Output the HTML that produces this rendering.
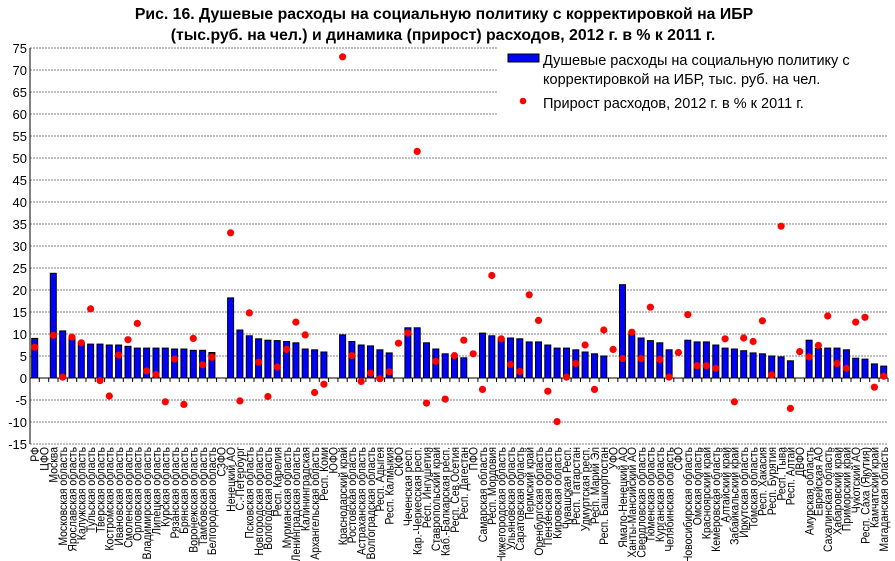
<!DOCTYPE html>
<html><head><meta charset="utf-8"><style>body{margin:0;background:#fff}svg{display:block}text{font-family:"Liberation Sans",sans-serif}</style></head><body>
<svg width="895" height="561" xmlns="http://www.w3.org/2000/svg">
<text x="444" y="19" text-anchor="middle" font-size="15.8" font-weight="bold">Рис. 16. Душевые расходы на социальную политику с корректировкой на ИБР</text>
<text x="443" y="40" text-anchor="middle" font-size="15.8" font-weight="bold">(тыс.руб. на чел.) и динамика (прирост) расходов, 2012 г. в % к 2011 г.</text>
<g stroke="#808080" stroke-width="1" stroke-dasharray="2,1">
<line x1="30" x2="888" y1="444" y2="444"/><line x1="30" x2="888" y1="422" y2="422"/><line x1="30" x2="888" y1="400" y2="400"/>
<line x1="30" x2="888" y1="356" y2="356"/><line x1="30" x2="888" y1="334" y2="334"/><line x1="30" x2="888" y1="312" y2="312"/>
<line x1="30" x2="888" y1="290" y2="290"/><line x1="30" x2="888" y1="268" y2="268"/><line x1="30" x2="888" y1="246" y2="246"/>
<line x1="30" x2="888" y1="224" y2="224"/><line x1="30" x2="888" y1="202" y2="202"/><line x1="30" x2="888" y1="180" y2="180"/>
<line x1="30" x2="888" y1="158" y2="158"/><line x1="30" x2="888" y1="136" y2="136"/><line x1="30" x2="888" y1="114" y2="114"/>
<line x1="30" x2="888" y1="92" y2="92"/><line x1="30" x2="888" y1="70" y2="70"/><line x1="30" x2="888" y1="48" y2="48"/>
</g>
<g font-size="13" text-anchor="end">
<text x="27" y="53">75</text><text x="27" y="75">70</text><text x="27" y="97">65</text><text x="27" y="119">60</text><text x="27" y="141">55</text><text x="27" y="163">50</text><text x="27" y="185">45</text><text x="27" y="207">40</text><text x="27" y="229">35</text><text x="27" y="251">30</text><text x="27" y="273">25</text><text x="27" y="295">20</text><text x="27" y="317">15</text><text x="27" y="339">10</text><text x="27" y="361">5</text><text x="27" y="383">0</text><text x="27" y="405">-5</text><text x="27" y="427">-10</text><text x="27" y="449">-15</text>
</g>
<g fill="#0000ff" stroke="#000" stroke-width="1">
<rect x="31.7" y="338.4" width="6" height="39.6"/>
<rect x="50.3" y="273.3" width="6" height="104.7"/>
<rect x="59.7" y="330.9" width="6" height="47.1"/>
<rect x="69" y="338.4" width="6" height="39.6"/>
<rect x="78.3" y="342.8" width="6" height="35.2"/>
<rect x="87.6" y="344.1" width="6" height="33.9"/>
<rect x="97" y="344.1" width="6" height="33.9"/>
<rect x="106.3" y="345" width="6" height="33"/>
<rect x="115.6" y="345" width="6" height="33"/>
<rect x="125" y="346.3" width="6" height="31.7"/>
<rect x="134.3" y="348.1" width="6" height="29.9"/>
<rect x="143.6" y="348.1" width="6" height="29.9"/>
<rect x="153" y="348.1" width="6" height="29.9"/>
<rect x="162.3" y="348.1" width="6" height="29.9"/>
<rect x="171.6" y="349" width="6" height="29"/>
<rect x="180.9" y="349" width="6" height="29"/>
<rect x="190.3" y="350.3" width="6" height="27.7"/>
<rect x="199.6" y="350.3" width="6" height="27.7"/>
<rect x="208.9" y="352.5" width="6" height="25.5"/>
<rect x="227.6" y="297.9" width="6" height="80.1"/>
<rect x="236.9" y="330" width="6" height="48"/>
<rect x="246.3" y="335.8" width="6" height="42.2"/>
<rect x="255.6" y="338.8" width="6" height="39.2"/>
<rect x="264.9" y="340.2" width="6" height="37.8"/>
<rect x="274.2" y="340.6" width="6" height="37.4"/>
<rect x="283.6" y="341.5" width="6" height="36.5"/>
<rect x="292.9" y="342.8" width="6" height="35.2"/>
<rect x="302.2" y="349" width="6" height="29"/>
<rect x="311.6" y="349.8" width="6" height="28.2"/>
<rect x="320.9" y="352" width="6" height="26"/>
<rect x="339.6" y="334.9" width="6" height="43.1"/>
<rect x="348.9" y="341.5" width="6" height="36.5"/>
<rect x="358.2" y="345" width="6" height="33"/>
<rect x="367.5" y="345.9" width="6" height="32.1"/>
<rect x="376.9" y="349.8" width="6" height="28.2"/>
<rect x="386.2" y="352.9" width="6" height="25.1"/>
<rect x="404.9" y="327.8" width="6" height="50.2"/>
<rect x="414.2" y="327.8" width="6" height="50.2"/>
<rect x="423.5" y="342.8" width="6" height="35.2"/>
<rect x="432.8" y="349" width="6" height="29"/>
<rect x="442.2" y="353.8" width="6" height="24.2"/>
<rect x="451.5" y="357.8" width="6" height="20.2"/>
<rect x="460.8" y="357.8" width="6" height="20.2"/>
<rect x="479.5" y="333.1" width="6" height="44.9"/>
<rect x="488.8" y="335.8" width="6" height="42.2"/>
<rect x="498.2" y="338.4" width="6" height="39.6"/>
<rect x="507.5" y="338" width="6" height="40"/>
<rect x="516.8" y="338.8" width="6" height="39.2"/>
<rect x="526.2" y="341.9" width="6" height="36.1"/>
<rect x="535.5" y="341.9" width="6" height="36.1"/>
<rect x="544.8" y="345" width="6" height="33"/>
<rect x="554.1" y="348.1" width="6" height="29.9"/>
<rect x="563.5" y="348.1" width="6" height="29.9"/>
<rect x="572.8" y="349.8" width="6" height="28.2"/>
<rect x="582.1" y="352" width="6" height="26"/>
<rect x="591.5" y="353.8" width="6" height="24.2"/>
<rect x="600.8" y="356" width="6" height="22"/>
<rect x="619.5" y="284.7" width="6" height="93.3"/>
<rect x="628.8" y="333.1" width="6" height="44.9"/>
<rect x="638.1" y="338" width="6" height="40"/>
<rect x="647.4" y="340.6" width="6" height="37.4"/>
<rect x="656.8" y="342.8" width="6" height="35.2"/>
<rect x="666.1" y="349.8" width="6" height="28.2"/>
<rect x="684.8" y="340.2" width="6" height="37.8"/>
<rect x="694.1" y="341.9" width="6" height="36.1"/>
<rect x="703.4" y="341.9" width="6" height="36.1"/>
<rect x="712.8" y="345" width="6" height="33"/>
<rect x="722.1" y="348.1" width="6" height="29.9"/>
<rect x="731.4" y="349" width="6" height="29"/>
<rect x="740.7" y="350.7" width="6" height="27.3"/>
<rect x="750.1" y="352.9" width="6" height="25.1"/>
<rect x="759.4" y="353.8" width="6" height="24.2"/>
<rect x="768.7" y="356" width="6" height="22"/>
<rect x="778.1" y="356.9" width="6" height="21.1"/>
<rect x="787.4" y="360.8" width="6" height="17.2"/>
<rect x="806.1" y="340.2" width="6" height="37.8"/>
<rect x="815.4" y="348.5" width="6" height="29.5"/>
<rect x="824.7" y="348.1" width="6" height="29.9"/>
<rect x="834" y="348.1" width="6" height="29.9"/>
<rect x="843.4" y="349.8" width="6" height="28.2"/>
<rect x="852.7" y="358.2" width="6" height="19.8"/>
<rect x="862" y="359.1" width="6" height="18.9"/>
<rect x="871.4" y="363.9" width="6" height="14.1"/>
<rect x="880.7" y="366.1" width="6" height="11.9"/>
</g>
<line x1="30" x2="888" y1="378" y2="378" stroke="#000"/>
<line x1="30" x2="30" y1="48" y2="444" stroke="#000"/>
<path stroke="#000" d="M39.3 378v4M48.7 378v4M58 378v4M67.3 378v4M76.7 378v4M86 378v4M95.3 378v4M104.6 378v4M114 378v4M123.3 378v4M132.6 378v4M142 378v4M151.3 378v4M160.6 378v4M170 378v4M179.3 378v4M188.6 378v4M198 378v4M207.3 378v4M216.6 378v4M226 378v4M235.3 378v4M244.6 378v4M254 378v4M263.3 378v4M272.6 378v4M281.9 378v4M291.3 378v4M300.6 378v4M309.9 378v4M319.3 378v4M328.6 378v4M337.9 378v4M347.2 378v4M356.6 378v4M365.9 378v4M375.2 378v4M384.6 378v4M393.9 378v4M403.2 378v4M412.5 378v4M421.9 378v4M431.2 378v4M440.5 378v4M449.9 378v4M459.2 378v4M468.5 378v4M477.9 378v4M487.2 378v4M496.5 378v4M505.8 378v4M515.2 378v4M524.5 378v4M533.8 378v4M543.2 378v4M552.5 378v4M561.8 378v4M571.1 378v4M580.5 378v4M589.8 378v4M599.1 378v4M608.5 378v4M617.8 378v4M627.1 378v4M636.4 378v4M645.8 378v4M655.1 378v4M664.4 378v4M673.8 378v4M683.1 378v4M692.4 378v4M701.8 378v4M711.1 378v4M720.4 378v4M729.7 378v4M739.1 378v4M748.4 378v4M757.7 378v4M767.1 378v4M776.4 378v4M785.7 378v4M795 378v4M804.4 378v4M813.7 378v4M823 378v4M832.4 378v4M841.7 378v4M851 378v4M860.4 378v4M869.7 378v4M879 378v4M888 378v4"/>
<g fill="#ff0000">
<circle cx="34.7" cy="347.2" r="3.6"/><circle cx="53.3" cy="335.3" r="3.6"/><circle cx="62.7" cy="377.1" r="3.6"/><circle cx="72" cy="337.1" r="3.6"/><circle cx="81.3" cy="342.8" r="3.6"/><circle cx="90.6" cy="308.9" r="3.6"/><circle cx="100" cy="380.6" r="3.6"/><circle cx="109.3" cy="396" r="3.6"/><circle cx="118.6" cy="355.1" r="3.6"/><circle cx="128" cy="339.7" r="3.6"/><circle cx="137.3" cy="323.4" r="3.6"/><circle cx="146.6" cy="371" r="3.6"/><circle cx="156" cy="374.5" r="3.6"/><circle cx="165.3" cy="401.8" r="3.6"/><circle cx="174.6" cy="359.1" r="3.6"/><circle cx="183.9" cy="404.4" r="3.6"/><circle cx="193.3" cy="338.4" r="3.6"/><circle cx="202.6" cy="364.8" r="3.6"/><circle cx="211.9" cy="357.3" r="3.6"/>
<circle cx="230.6" cy="232.8" r="3.6"/><circle cx="239.9" cy="400.9" r="3.6"/><circle cx="249.3" cy="312.9" r="3.6"/><circle cx="258.6" cy="362.2" r="3.6"/><circle cx="267.9" cy="396.5" r="3.6"/><circle cx="277.2" cy="367" r="3.6"/><circle cx="286.6" cy="349.4" r="3.6"/><circle cx="295.9" cy="322.1" r="3.6"/><circle cx="305.2" cy="334.9" r="3.6"/><circle cx="314.6" cy="392.5" r="3.6"/><circle cx="323.9" cy="384.2" r="3.6"/>
<circle cx="342.6" cy="56.8" r="3.6"/><circle cx="351.9" cy="355.6" r="3.6"/><circle cx="361.2" cy="381.5" r="3.6"/><circle cx="370.5" cy="373.2" r="3.6"/><circle cx="379.9" cy="378.7" r="3.6"/><circle cx="389.2" cy="371.8" r="3.6"/><circle cx="398.5" cy="343.2" r="3.6"/><circle cx="407.9" cy="333.1" r="3.6"/><circle cx="417.2" cy="151.4" r="3.6"/><circle cx="426.5" cy="403.1" r="3.6"/><circle cx="435.8" cy="361.3" r="3.6"/><circle cx="445.2" cy="399.1" r="3.6"/><circle cx="454.5" cy="355.6" r="3.6"/><circle cx="463.8" cy="340.2" r="3.6"/>
<circle cx="473.2" cy="353.8" r="3.6"/><circle cx="482.5" cy="389.4" r="3.6"/><circle cx="491.8" cy="275.5" r="3.6"/><circle cx="501.2" cy="338.8" r="3.6"/><circle cx="510.5" cy="364.4" r="3.6"/><circle cx="519.8" cy="371.4" r="3.6"/><circle cx="529.2" cy="294.8" r="3.6"/><circle cx="538.5" cy="320.4" r="3.6"/><circle cx="547.8" cy="391.2" r="3.6"/><circle cx="557.1" cy="421.6" r="3.6"/><circle cx="566.5" cy="377.1" r="3.6"/><circle cx="575.8" cy="363.5" r="3.6"/><circle cx="585.1" cy="345" r="3.6"/><circle cx="594.5" cy="389.4" r="3.6"/><circle cx="603.8" cy="330" r="3.6"/>
<circle cx="613.1" cy="349.4" r="3.6"/><circle cx="622.5" cy="358.6" r="3.6"/><circle cx="631.8" cy="332.2" r="3.6"/><circle cx="641.1" cy="358.6" r="3.6"/><circle cx="650.4" cy="307.2" r="3.6"/><circle cx="659.8" cy="359.5" r="3.6"/><circle cx="669.1" cy="377.1" r="3.6"/>
<circle cx="678.4" cy="352.5" r="3.6"/><circle cx="687.8" cy="314.6" r="3.6"/><circle cx="697.1" cy="365.7" r="3.6"/><circle cx="706.4" cy="365.7" r="3.6"/><circle cx="715.8" cy="368.3" r="3.6"/><circle cx="725.1" cy="338.8" r="3.6"/><circle cx="734.4" cy="401.8" r="3.6"/><circle cx="743.7" cy="338" r="3.6"/><circle cx="753.1" cy="341.5" r="3.6"/><circle cx="762.4" cy="320.8" r="3.6"/><circle cx="771.7" cy="374.9" r="3.6"/><circle cx="781.1" cy="226.2" r="3.6"/><circle cx="790.4" cy="408.4" r="3.6"/>
<circle cx="799.7" cy="351.6" r="3.6"/><circle cx="809.1" cy="356.9" r="3.6"/><circle cx="818.4" cy="345.4" r="3.6"/><circle cx="827.7" cy="316" r="3.6"/><circle cx="837" cy="363.5" r="3.6"/><circle cx="846.4" cy="368.3" r="3.6"/><circle cx="855.7" cy="322.1" r="3.6"/><circle cx="865" cy="317.3" r="3.6"/><circle cx="874.4" cy="387.2" r="3.6"/><circle cx="883.7" cy="376.2" r="3.6"/>
</g>
<rect x="497" y="44" width="392" height="74" fill="#fff"/>
<rect x="508" y="54" width="31" height="8" fill="#0000ff" stroke="#000"/>
<circle cx="523" cy="101" r="3.3" fill="#ff0000"/>
<g font-size="14.5"><text x="543" y="65">Душевые расходы на социальную политику с</text><text x="543" y="84">корректировкой на ИБР, тыс. руб. на чел.</text><text x="543" y="108">Прирост расходов, 2012 г. в % к 2011 г.</text></g>
<g font-size="12" text-anchor="end">
<text transform="translate(39,447) rotate(-90) scale(0.87,1)">РФ</text>
<text transform="translate(48.3,447) rotate(-90) scale(0.87,1)">ЦФО</text>
<text transform="translate(57.6,447) rotate(-90) scale(0.87,1)">Москва</text>
<text transform="translate(67,447) rotate(-90) scale(0.87,1)">Московская область</text>
<text transform="translate(76.3,447) rotate(-90) scale(0.87,1)">Ярославская область</text>
<text transform="translate(85.6,447) rotate(-90) scale(0.87,1)">Калужская область</text>
<text transform="translate(94.9,447) rotate(-90) scale(0.87,1)">Тульская область</text>
<text transform="translate(104.3,447) rotate(-90) scale(0.87,1)">Тверская область</text>
<text transform="translate(113.6,447) rotate(-90) scale(0.87,1)">Костромская область</text>
<text transform="translate(122.9,447) rotate(-90) scale(0.87,1)">Ивановская область</text>
<text transform="translate(132.3,447) rotate(-90) scale(0.87,1)">Смоленская область</text>
<text transform="translate(141.6,447) rotate(-90) scale(0.87,1)">Орловская область</text>
<text transform="translate(150.9,447) rotate(-90) scale(0.87,1)">Владимирская область</text>
<text transform="translate(160.3,447) rotate(-90) scale(0.87,1)">Липецкая область</text>
<text transform="translate(169.6,447) rotate(-90) scale(0.87,1)">Курская область</text>
<text transform="translate(178.9,447) rotate(-90) scale(0.87,1)">Рязанская область</text>
<text transform="translate(188.2,447) rotate(-90) scale(0.87,1)">Брянская область</text>
<text transform="translate(197.6,447) rotate(-90) scale(0.87,1)">Воронежская область</text>
<text transform="translate(206.9,447) rotate(-90) scale(0.87,1)">Тамбовская область</text>
<text transform="translate(216.2,447) rotate(-90) scale(0.87,1)">Белгородская область</text>
<text transform="translate(225.6,447) rotate(-90) scale(0.87,1)">СЗФО</text>
<text transform="translate(234.9,447) rotate(-90) scale(0.87,1)">Ненецкий АО</text>
<text transform="translate(244.2,447) rotate(-90) scale(0.87,1)">С.-Петербург</text>
<text transform="translate(253.6,447) rotate(-90) scale(0.87,1)">Псковская область</text>
<text transform="translate(262.9,447) rotate(-90) scale(0.87,1)">Новгородская область</text>
<text transform="translate(272.2,447) rotate(-90) scale(0.87,1)">Вологодская область</text>
<text transform="translate(281.5,447) rotate(-90) scale(0.87,1)">Респ. Карелия</text>
<text transform="translate(290.9,447) rotate(-90) scale(0.87,1)">Мурманская область</text>
<text transform="translate(300.2,447) rotate(-90) scale(0.87,1)">Ленинградская область</text>
<text transform="translate(309.5,447) rotate(-90) scale(0.87,1)">Калининградская</text>
<text transform="translate(318.9,447) rotate(-90) scale(0.87,1)">Архангельская область</text>
<text transform="translate(328.2,447) rotate(-90) scale(0.87,1)">Респ. Коми</text>
<text transform="translate(337.5,447) rotate(-90) scale(0.87,1)">ЮФО</text>
<text transform="translate(346.9,447) rotate(-90) scale(0.87,1)">Краснодарский край</text>
<text transform="translate(356.2,447) rotate(-90) scale(0.87,1)">Ростовская область</text>
<text transform="translate(365.5,447) rotate(-90) scale(0.87,1)">Астраханская область</text>
<text transform="translate(374.8,447) rotate(-90) scale(0.87,1)">Волгоградская область</text>
<text transform="translate(384.2,447) rotate(-90) scale(0.87,1)">Респ. Адыгея</text>
<text transform="translate(393.5,447) rotate(-90) scale(0.87,1)">Респ. Калмыкия</text>
<text transform="translate(402.8,447) rotate(-90) scale(0.87,1)">СКФО</text>
<text transform="translate(412.2,447) rotate(-90) scale(0.87,1)">Чеченская респ.</text>
<text transform="translate(421.5,447) rotate(-90) scale(0.87,1)">Кар.-Черкесская респ.</text>
<text transform="translate(430.8,447) rotate(-90) scale(0.87,1)">Респ. Ингушетия</text>
<text transform="translate(440.1,447) rotate(-90) scale(0.87,1)">Ставропольский край</text>
<text transform="translate(449.5,447) rotate(-90) scale(0.87,1)">Каб.-Балкарская респ.</text>
<text transform="translate(458.8,447) rotate(-90) scale(0.87,1)">Респ. Сев.Осетия</text>
<text transform="translate(468.1,447) rotate(-90) scale(0.87,1)">Респ. Дагестан</text>
<text transform="translate(477.5,447) rotate(-90) scale(0.87,1)">ПФО</text>
<text transform="translate(486.8,447) rotate(-90) scale(0.87,1)">Самарская область</text>
<text transform="translate(496.1,447) rotate(-90) scale(0.87,1)">Респ. Мордовия</text>
<text transform="translate(505.5,447) rotate(-90) scale(0.87,1)">Нижегородская область</text>
<text transform="translate(514.8,447) rotate(-90) scale(0.87,1)">Ульяновская область</text>
<text transform="translate(524.1,447) rotate(-90) scale(0.87,1)">Саратовская область</text>
<text transform="translate(533.5,447) rotate(-90) scale(0.87,1)">Пермский край</text>
<text transform="translate(542.8,447) rotate(-90) scale(0.87,1)">Оренбургская область</text>
<text transform="translate(552.1,447) rotate(-90) scale(0.87,1)">Пензенская область</text>
<text transform="translate(561.4,447) rotate(-90) scale(0.87,1)">Кировская область</text>
<text transform="translate(570.8,447) rotate(-90) scale(0.87,1)">Чувашская Респ.</text>
<text transform="translate(580.1,447) rotate(-90) scale(0.87,1)">Респ. Татарстан</text>
<text transform="translate(589.4,447) rotate(-90) scale(0.87,1)">Удмуртская респ.</text>
<text transform="translate(598.8,447) rotate(-90) scale(0.87,1)">Респ. Марий Эл</text>
<text transform="translate(608.1,447) rotate(-90) scale(0.87,1)">Респ. Башкортостан</text>
<text transform="translate(617.4,447) rotate(-90) scale(0.87,1)">УФО</text>
<text transform="translate(626.8,447) rotate(-90) scale(0.87,1)">Ямало-Ненецкий АО</text>
<text transform="translate(636.1,447) rotate(-90) scale(0.87,1)">Ханты-Мансийский АО</text>
<text transform="translate(645.4,447) rotate(-90) scale(0.87,1)">Свердловская область</text>
<text transform="translate(654.7,447) rotate(-90) scale(0.87,1)">Тюменская область</text>
<text transform="translate(664.1,447) rotate(-90) scale(0.87,1)">Курганская область</text>
<text transform="translate(673.4,447) rotate(-90) scale(0.87,1)">Челябинская область</text>
<text transform="translate(682.7,447) rotate(-90) scale(0.87,1)">СФО</text>
<text transform="translate(692.1,447) rotate(-90) scale(0.87,1)">Новосибирская область</text>
<text transform="translate(701.4,447) rotate(-90) scale(0.87,1)">Омская область</text>
<text transform="translate(710.7,447) rotate(-90) scale(0.87,1)">Красноярский край</text>
<text transform="translate(720.1,447) rotate(-90) scale(0.87,1)">Кемеровская область</text>
<text transform="translate(729.4,447) rotate(-90) scale(0.87,1)">Алтайский край</text>
<text transform="translate(738.7,447) rotate(-90) scale(0.87,1)">Забайкальский край</text>
<text transform="translate(748,447) rotate(-90) scale(0.87,1)">Иркутская область</text>
<text transform="translate(757.4,447) rotate(-90) scale(0.87,1)">Томская область</text>
<text transform="translate(766.7,447) rotate(-90) scale(0.87,1)">Респ. Хакасия</text>
<text transform="translate(776,447) rotate(-90) scale(0.87,1)">Респ. Бурятия</text>
<text transform="translate(785.4,447) rotate(-90) scale(0.87,1)">Респ. Тыва</text>
<text transform="translate(794.7,447) rotate(-90) scale(0.87,1)">Респ. Алтай</text>
<text transform="translate(804,447) rotate(-90) scale(0.87,1)">ДВФО</text>
<text transform="translate(813.4,447) rotate(-90) scale(0.87,1)">Амурская область</text>
<text transform="translate(822.7,447) rotate(-90) scale(0.87,1)">Еврейская АО</text>
<text transform="translate(832,447) rotate(-90) scale(0.87,1)">Сахалинская область</text>
<text transform="translate(841.3,447) rotate(-90) scale(0.87,1)">Хабаровский край</text>
<text transform="translate(850.7,447) rotate(-90) scale(0.87,1)">Приморский край</text>
<text transform="translate(860,447) rotate(-90) scale(0.87,1)">Чукотский АО</text>
<text transform="translate(869.3,447) rotate(-90) scale(0.87,1)">Респ. Саха (Якутия)</text>
<text transform="translate(878.7,447) rotate(-90) scale(0.87,1)">Камчатский край</text>
<text transform="translate(888,447) rotate(-90) scale(0.87,1)">Магаданская область</text>
</g>
</svg>
</body></html>
